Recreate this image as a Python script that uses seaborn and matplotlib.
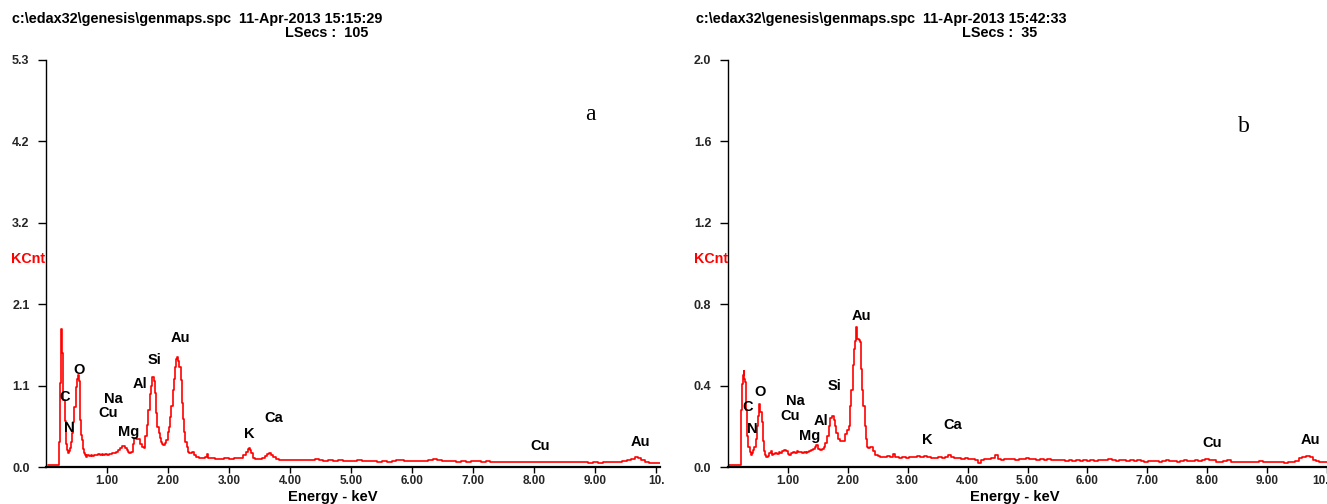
import numpy as np
import pandas as pd
import matplotlib
matplotlib.use("Agg")
import matplotlib.pyplot as plt
import seaborn as sns

# ---------------- data ----------------
energy_a = [0.02, 0.10, 0.19, 0.21, 0.23, 0.24, 0.25, 0.26, 0.27, 0.29, 0.31, 0.32, 0.33, 0.34, 0.36,
            0.38, 0.39, 0.41, 0.43, 0.45, 0.47, 0.49, 0.51, 0.52, 0.54, 0.55, 0.56, 0.58, 0.59, 0.61,
            0.62, 0.64, 0.65, 0.68, 0.71, 0.74, 0.77, 0.80, 0.83, 0.86, 0.89, 0.92, 0.95, 0.98, 1.01,
            1.04, 1.07, 1.10, 1.13, 1.16, 1.19, 1.22, 1.25, 1.28, 1.31, 1.33, 1.35, 1.37, 1.40, 1.43,
            1.46, 1.49, 1.52, 1.55, 1.58, 1.61, 1.64, 1.66, 1.69, 1.71, 1.73, 1.75, 1.77, 1.79, 1.81,
            1.83, 1.85, 1.87, 1.89, 1.91, 1.93, 1.95, 1.98, 2.00, 2.02, 2.04, 2.06, 2.08, 2.10, 2.12,
            2.14, 2.15, 2.17, 2.19, 2.21, 2.23, 2.25, 2.27, 2.29, 2.31, 2.33, 2.35, 2.38, 2.41, 2.44,
            2.47, 2.52, 2.58, 2.62, 2.64, 2.66, 2.72, 2.80, 2.88, 2.96, 3.04, 3.12, 3.20, 3.25, 3.29,
            3.31, 3.33, 3.35, 3.37, 3.40, 3.45, 3.50, 3.56, 3.61, 3.64, 3.67, 3.70, 3.74, 3.78, 3.84,
            3.90, 3.98, 4.06, 4.14, 4.22, 4.30, 4.38, 4.44, 4.50, 4.58, 4.66, 4.74, 4.82, 4.90, 4.98,
            5.06, 5.14, 5.22, 5.30, 5.38, 5.46, 5.54, 5.62, 5.70, 5.78, 5.84, 5.90, 5.98, 6.06, 6.14,
            6.22, 6.30, 6.38, 6.44, 6.52, 6.60, 6.68, 6.76, 6.84, 6.92, 7.00, 7.08, 7.16, 7.24, 7.32,
            7.40, 7.48, 7.56, 7.64, 7.72, 7.80, 7.88, 7.96, 8.04, 8.12, 8.20, 8.28, 8.36, 8.44, 8.52,
            8.60, 8.68, 8.76, 8.84, 8.92, 9.00, 9.08, 9.16, 9.24, 9.32, 9.40, 9.48, 9.56, 9.62, 9.68,
            9.72, 9.78, 9.84, 9.92, 10.00, 10.06]
kcnt_a = [0.025, 0.025, 0.025, 0.33, 1.10, 1.52, 1.80, 1.55, 1.48, 0.87, 0.60, 0.48, 0.30, 0.22, 0.18,
          0.21, 0.25, 0.33, 0.44, 0.58, 0.78, 1.04, 1.15, 1.20, 1.12, 1.04, 0.61, 0.42, 0.35, 0.24,
          0.18, 0.15, 0.13, 0.15, 0.14, 0.16, 0.14, 0.16, 0.15, 0.17, 0.15, 0.17, 0.16, 0.17, 0.16,
          0.17, 0.17, 0.18, 0.18, 0.20, 0.22, 0.25, 0.27, 0.27, 0.25, 0.22, 0.20, 0.18, 0.20, 0.30,
          0.38, 0.37, 0.36, 0.30, 0.26, 0.25, 0.40, 0.55, 0.74, 0.95, 1.05, 1.17, 1.12, 0.96, 0.70,
          0.52, 0.44, 0.38, 0.33, 0.30, 0.29, 0.31, 0.35, 0.45, 0.52, 0.65, 0.80, 1.00, 1.15, 1.30,
          1.40, 1.43, 1.38, 1.30, 1.13, 0.83, 0.62, 0.45, 0.32, 0.26, 0.20, 0.18, 0.18, 0.19, 0.16,
          0.13, 0.12, 0.12, 0.13, 0.165, 0.12, 0.12, 0.11, 0.11, 0.12, 0.11, 0.12, 0.12, 0.16, 0.20,
          0.23, 0.25, 0.22, 0.18, 0.12, 0.11, 0.10, 0.12, 0.14, 0.17, 0.18, 0.16, 0.13, 0.10, 0.09,
          0.095, 0.085, 0.09, 0.085, 0.09, 0.085, 0.095, 0.10, 0.085, 0.08, 0.085, 0.08, 0.085, 0.075, 0.08,
          0.075, 0.085, 0.08, 0.075, 0.08, 0.07, 0.075, 0.07, 0.075, 0.09, 0.085, 0.075, 0.08, 0.075, 0.08,
          0.075, 0.085, 0.10, 0.09, 0.075, 0.08, 0.075, 0.07, 0.075, 0.07, 0.08, 0.075, 0.07, 0.075, 0.06,
          0.065, 0.06, 0.065, 0.06, 0.065, 0.06, 0.065, 0.06, 0.07, 0.065, 0.06, 0.065, 0.06, 0.065, 0.06,
          0.065, 0.06, 0.065, 0.06, 0.055, 0.06, 0.055, 0.06, 0.065, 0.06, 0.065, 0.08, 0.095, 0.11, 0.13,
          0.12, 0.09, 0.06, 0.05, 0.055, 0.05]

energy_b = [0.02, 0.10, 0.21, 0.23, 0.25, 0.26, 0.27, 0.28, 0.29, 0.31, 0.33, 0.35, 0.37, 0.39, 0.41,
            0.43, 0.45, 0.47, 0.49, 0.51, 0.53, 0.55, 0.57, 0.59, 0.61, 0.63, 0.65, 0.68, 0.70, 0.72,
            0.74, 0.77, 0.80, 0.83, 0.86, 0.89, 0.92, 0.95, 0.98, 1.01, 1.04, 1.07, 1.10, 1.13, 1.16,
            1.19, 1.22, 1.25, 1.28, 1.31, 1.34, 1.37, 1.40, 1.43, 1.46, 1.49, 1.52, 1.55, 1.58, 1.61,
            1.64, 1.67, 1.70, 1.72, 1.74, 1.76, 1.78, 1.80, 1.82, 1.85, 1.88, 1.91, 1.94, 1.97, 2.00,
            2.03, 2.05, 2.07, 2.09, 2.11, 2.13, 2.15, 2.17, 2.19, 2.21, 2.23, 2.25, 2.27, 2.29, 2.31,
            2.33, 2.36, 2.39, 2.41, 2.44, 2.48, 2.52, 2.57, 2.63, 2.68, 2.74, 2.77, 2.82, 2.88, 2.94,
            3.00, 3.06, 3.12, 3.18, 3.24, 3.30, 3.36, 3.42, 3.48, 3.54, 3.60, 3.66, 3.69, 3.74, 3.80,
            3.86, 3.92, 3.98, 4.04, 4.10, 4.16, 4.20, 4.24, 4.30, 4.36, 4.42, 4.48, 4.52, 4.58, 4.64,
            4.70, 4.76, 4.82, 4.88, 4.94, 5.00, 5.06, 5.12, 5.18, 5.24, 5.30, 5.36, 5.42, 5.48, 5.54,
            5.60, 5.66, 5.72, 5.78, 5.84, 5.90, 5.96, 6.02, 6.08, 6.14, 6.20, 6.26, 6.32, 6.38, 6.44,
            6.50, 6.56, 6.62, 6.68, 6.74, 6.80, 6.86, 6.92, 6.98, 7.04, 7.10, 7.16, 7.22, 7.28, 7.34,
            7.40, 7.46, 7.52, 7.58, 7.64, 7.70, 7.76, 7.82, 7.88, 7.94, 8.00, 8.06, 8.12, 8.18, 8.24,
            8.30, 8.36, 8.42, 8.48, 8.54, 8.60, 8.66, 8.72, 8.78, 8.84, 8.90, 8.96, 9.02, 9.08, 9.14,
            9.20, 9.26, 9.32, 9.38, 9.44, 9.50, 9.56, 9.62, 9.68, 9.74, 9.78, 9.84, 9.90, 9.96, 10.00]
kcnt_b = [0.01, 0.01, 0.01, 0.28, 0.41, 0.45, 0.47, 0.43, 0.42, 0.28, 0.15, 0.10, 0.075, 0.06, 0.07,
          0.084, 0.10, 0.14, 0.20, 0.25, 0.31, 0.27, 0.22, 0.13, 0.08, 0.06, 0.05, 0.055, 0.07, 0.08,
          0.06, 0.065, 0.07, 0.065, 0.075, 0.07, 0.08, 0.085, 0.08, 0.065, 0.06, 0.07, 0.075, 0.07, 0.08,
          0.075, 0.075, 0.07, 0.075, 0.07, 0.075, 0.08, 0.085, 0.09, 0.10, 0.11, 0.09, 0.085, 0.09, 0.10,
          0.12, 0.15, 0.20, 0.24, 0.25, 0.25, 0.23, 0.20, 0.165, 0.14, 0.13, 0.13, 0.13, 0.16, 0.18,
          0.20, 0.30, 0.38, 0.50, 0.58, 0.62, 0.69, 0.63, 0.625, 0.615, 0.48, 0.38, 0.30, 0.20, 0.14,
          0.10, 0.095, 0.10, 0.10, 0.08, 0.06, 0.055, 0.05, 0.048, 0.055, 0.05, 0.064, 0.05, 0.043, 0.05,
          0.045, 0.05, 0.048, 0.052, 0.05, 0.055, 0.05, 0.045, 0.043, 0.048, 0.045, 0.05, 0.06, 0.048, 0.042,
          0.045, 0.04, 0.043, 0.038, 0.04, 0.035, 0.02, 0.035, 0.04, 0.038, 0.042, 0.06, 0.04, 0.035, 0.04,
          0.038, 0.04, 0.036, 0.04, 0.037, 0.042, 0.038, 0.04, 0.035, 0.038, 0.034, 0.037, 0.033, 0.036, 0.032,
          0.035, 0.03, 0.033, 0.03, 0.034, 0.03, 0.035, 0.031, 0.034, 0.03, 0.033, 0.035, 0.032, 0.04, 0.033,
          0.03, 0.035, 0.032, 0.03, 0.033, 0.028, 0.032, 0.03, 0.027, 0.031, 0.028, 0.03, 0.026, 0.03, 0.033,
          0.028, 0.03, 0.027, 0.029, 0.032, 0.028, 0.03, 0.033, 0.03, 0.035, 0.038, 0.034, 0.033, 0.025, 0.027,
          0.03, 0.034, 0.027, 0.025, 0.023, 0.026, 0.024, 0.027, 0.023, 0.025, 0.03, 0.024, 0.026, 0.023, 0.025,
          0.023, 0.027, 0.022, 0.025, 0.027, 0.03, 0.045, 0.05, 0.055, 0.05, 0.035, 0.028, 0.025, 0.027, 0.026]

peak_labels = ["C", "N", "O", "Na", "Cu", "Mg", "Al", "Si", "Au", "K", "Ca", "Cu", "Au"]
peak_x_a = [0.30, 0.38, 0.53, 1.10, 1.02, 1.35, 1.54, 1.77, 2.20, 3.32, 3.73, 8.09, 9.74]
peak_y_a = [0.91, 0.51, 1.26, 0.89, 0.70, 0.46, 1.08, 1.39, 1.68, 0.43, 0.64, 0.27, 0.33]
peak_x_b = [0.33, 0.40, 0.53, 1.12, 1.03, 1.37, 1.55, 1.78, 2.22, 3.32, 3.75, 8.08, 9.73]
peak_y_b = [0.295, 0.187, 0.37, 0.325, 0.25, 0.15, 0.226, 0.40, 0.74, 0.133, 0.206, 0.118, 0.133]

yticks_a = [0.0, 1.06, 2.12, 3.18, 4.24, 5.3]
ylabels_a = ["0.0", "1.1", "2.1", "3.2", "4.2", "5.3"]
yticks_b = [0.0, 0.4, 0.8, 1.2, 1.6, 2.0]
ylabels_b = ["0.0", "0.4", "0.8", "1.2", "1.6", "2.0"]
xticks = [1, 2, 3, 4, 5, 6, 7, 8, 9, 10]
xlabels_a = ["1.00", "2.00", "3.00", "4.00", "5.00", "6.00", "7.00", "8.00", "9.00", "10."]
xlabels_b = ["1.00", "2.00", "3.00", "4.00", "5.00", "6.00", "7.00", "8.00", "9.00", "10.00"]

header_a = "c:\\edax32\\genesis\\genmaps.spc  11-Apr-2013 15:15:29"
header_b = "c:\\edax32\\genesis\\genmaps.spc  11-Apr-2013 15:42:33"
lsecs_a = "LSecs :  105"
lsecs_b = "LSecs :  35"

# ---------------- figure ----------------
sns.set_style("white")
plt.rcParams["font.family"] = ["Liberation Sans", "DejaVu Sans"]

W, H = 1327, 504
fig = plt.figure(figsize=(W / 100, H / 100), dpi=100)

def px_axes(x0, x1, y_top, y_bot):
    return fig.add_axes([x0 / W, (H - y_bot) / H, (x1 - x0) / W, (y_bot - y_top) / H])

panels = [
    dict(x0=46.3, x1=660, xmax=10.06, ymax=5.3, e=energy_a, k=kcnt_a, px=peak_x_a, py=peak_y_a,
         yt=yticks_a, yl=ylabels_a, xl=xlabels_a, header=header_a, lsecs=lsecs_a,
         hx=12, lx=368, kx=28, exl=333, letter="a", letx=590, lety=114),
    dict(x0=728, x1=1327, xmax=10.0, ymax=2.0, e=energy_b, k=kcnt_b, px=peak_x_b, py=peak_y_b,
         yt=yticks_b, yl=ylabels_b, xl=xlabels_b, header=header_b, lsecs=lsecs_b,
         hx=696, lx=1037, kx=711, exl=1015, letter="b", letx=1244, lety=127),
]

for p in panels:
    ax = px_axes(p["x0"], p["x1"], 60, 467)
    df = pd.DataFrame({"Energy": p["e"], "KCnt": p["k"]})
    sns.lineplot(data=df, x="Energy", y="KCnt", ax=ax, color="#ff0000", linewidth=1.2,
                 drawstyle="steps-mid", estimator=None, sort=False)
    ax.set_xlim(0, p["xmax"])
    ax.set_ylim(0, p["ymax"])
    ax.set_facecolor("white")
    for s in ["top", "right"]:
        ax.spines[s].set_visible(False)
    ax.spines["left"].set_color("black")
    ax.spines["left"].set_linewidth(1.0)
    ax.spines["bottom"].set_color("black")
    ax.spines["bottom"].set_linewidth(1.6)
    ax.set_yticks(p["yt"])
    ax.set_yticklabels(p["yl"], fontsize=9, fontweight="bold")
    ax.set_xticks(xticks)
    ax.set_xticklabels(p["xl"], fontsize=8.5, fontweight="bold")
    ax.tick_params(axis="y", direction="out", length=6, width=1.0, pad=6, color="black", left=True)
    ax.tick_params(axis="x", direction="out", length=4, width=1.0, pad=2, color="black", bottom=True)
    ax.set_xlabel("")
    ax.set_ylabel("")
    ax.grid(False)
    for lab, x, y in zip(peak_labels, p["px"], p["py"]):
        ax.text(x, y, lab, ha="center", va="center", fontsize=10.5, fontweight="bold", color="black")
    # texts in figure pixel coordinates
    fig.text(p["hx"] / W, 1 - 19 / H, p["header"], ha="left", va="center", fontsize=10.4,
             fontweight="bold", color="black")
    fig.text(p["lx"] / W, 1 - 33 / H, p["lsecs"], ha="right", va="center", fontsize=10.4,
             fontweight="bold", color="black")
    fig.text(p["kx"] / W, 1 - 259 / H, "KCnt", ha="center", va="center", fontsize=10.3,
             fontweight="bold", color="#ff0000")
    fig.text(p["exl"] / W, 1 - 497 / H, "Energy - keV", ha="center", va="center", fontsize=10.6,
             fontweight="bold", color="black")
    fig.text(p["letx"] / W, 1 - p["lety"] / H, p["letter"], ha="center", va="center", fontsize=17,
             family=["Liberation Serif", "DejaVu Serif"], color="black")

fig.savefig("out.png", dpi=100, facecolor="white")
